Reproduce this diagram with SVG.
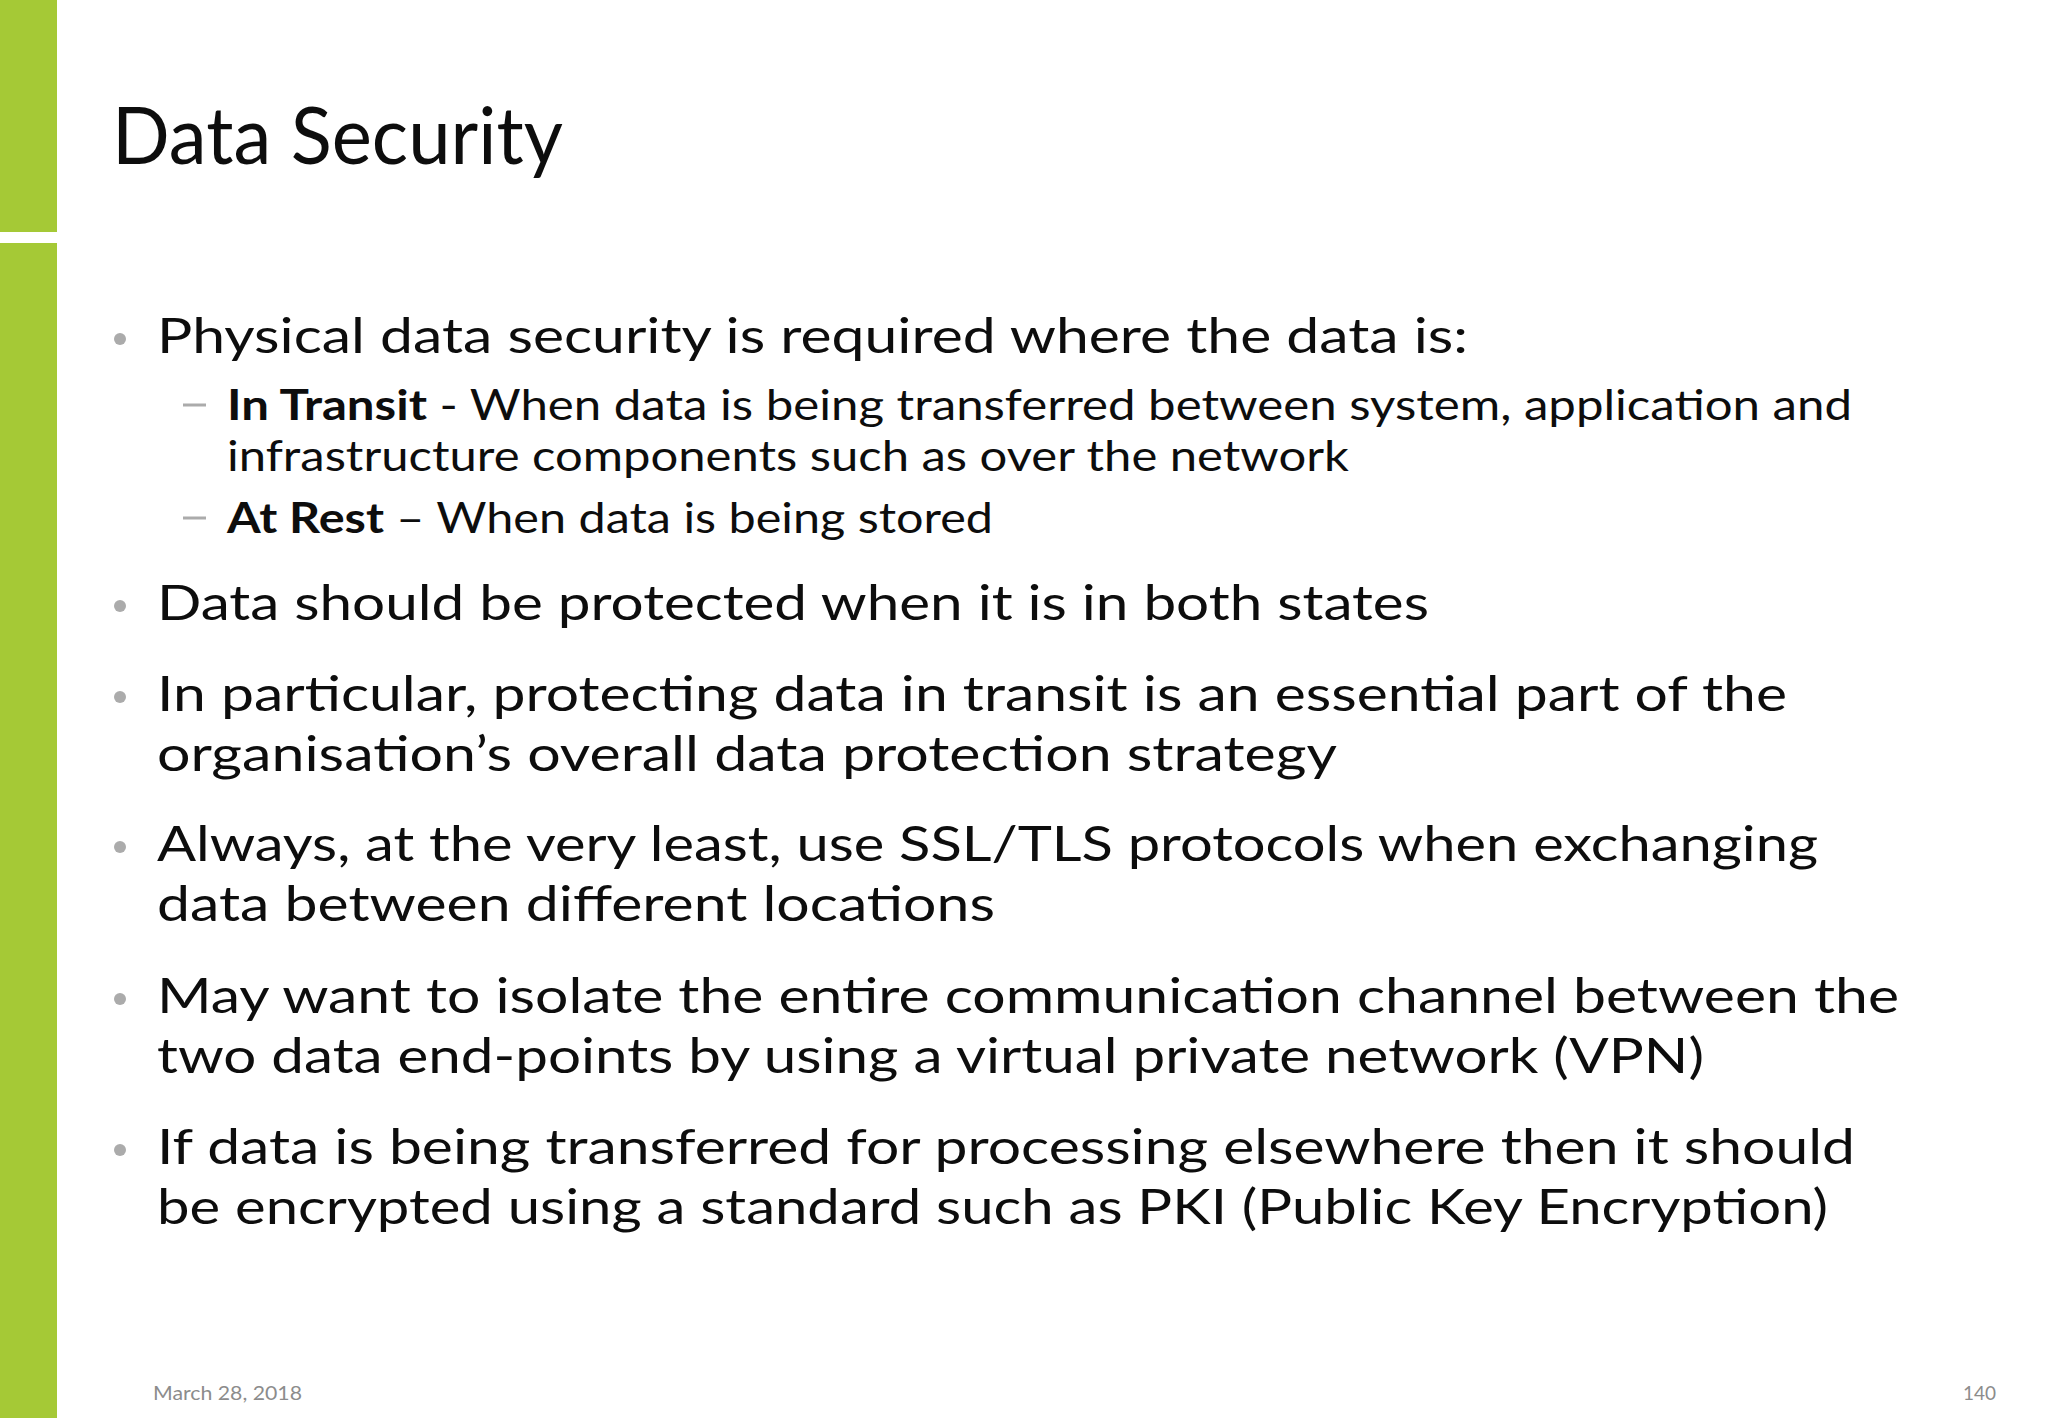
<svg xmlns="http://www.w3.org/2000/svg" width="2048" height="1418" viewBox="0 0 2048 1418">
<style>
text{font-family:Lato,"Open Sans",sans-serif;fill:#0d0d0d}
.m{font-size:49px}
.s{font-size:42px}
.b{font-weight:bold}
.f{font-size:19px;fill:#8c8c8c}
.dot{fill:#ababab}
.dash{stroke:#ababab;stroke-width:3}
</style>
<rect width="2048" height="1418" fill="#fff"/>
<rect x="0" y="0" width="57" height="232" fill="#a5c936"/>
<rect x="0" y="243" width="57" height="1175" fill="#a5c936"/>
<text x="112" y="164" font-size="80" textLength="451" lengthAdjust="spacingAndGlyphs">Data Security</text>
<g id="b1">
<circle class="dot" cx="120" cy="339" r="6"/>
<text class="m" x="157" y="353" textLength="1311" lengthAdjust="spacingAndGlyphs">Physical data security is required where the data is:</text>
</g>
<g id="s1">
<line class="dash" x1="183" y1="405" x2="206" y2="405"/>
<text class="s" x="227" y="420" textLength="1625" lengthAdjust="spacingAndGlyphs"><tspan class="b">In Transit</tspan> - When data is being transferred between system, application and</text>
<text class="s" x="227" y="471" textLength="1122" lengthAdjust="spacingAndGlyphs">infrastructure components such as over the network</text>
</g>
<g id="s2">
<line class="dash" x1="183" y1="518" x2="206" y2="518"/>
<text class="s" x="227" y="533" textLength="766" lengthAdjust="spacingAndGlyphs"><tspan class="b">At Rest</tspan> – When data is being stored</text>
</g>
<g id="b2">
<circle class="dot" cx="120" cy="606" r="6"/>
<text class="m" x="157" y="620" textLength="1272" lengthAdjust="spacingAndGlyphs">Data should be protected when it is in both states</text>
</g>
<g id="b3">
<circle class="dot" cx="120" cy="697" r="6"/>
<text class="m" x="157" y="711" textLength="1630" lengthAdjust="spacingAndGlyphs">In particular, protecting data in transit is an essential part of the</text>
<text class="m" x="157" y="771" textLength="1180" lengthAdjust="spacingAndGlyphs">organisation’s overall data protection strategy</text>
</g>
<g id="b4">
<circle class="dot" cx="120" cy="847" r="6"/>
<text class="m" x="157" y="861" textLength="1661" lengthAdjust="spacingAndGlyphs">Always, at the very least, use SSL/TLS protocols when exchanging</text>
<text class="m" x="157" y="921" textLength="838" lengthAdjust="spacingAndGlyphs">data between different locations</text>
</g>
<g id="b5">
<circle class="dot" cx="120" cy="999" r="6"/>
<text class="m" x="157" y="1013" textLength="1742" lengthAdjust="spacingAndGlyphs">May want to isolate the entire communication channel between the</text>
<text class="m" x="157" y="1073" textLength="1547" lengthAdjust="spacingAndGlyphs">two data end-points by using a virtual private network (VPN)</text>
</g>
<g id="b6">
<circle class="dot" cx="120" cy="1150" r="6"/>
<text class="m" x="157" y="1164" textLength="1698" lengthAdjust="spacingAndGlyphs">If data is being transferred for processing elsewhere then it should</text>
<text class="m" x="157" y="1224" textLength="1671" lengthAdjust="spacingAndGlyphs">be encrypted using a standard such as PKI (Public Key Encryption)</text>
</g>
<text class="f" x="153" y="1400" textLength="149" lengthAdjust="spacingAndGlyphs">March 28, 2018</text>
<text class="f" x="1996" y="1400" text-anchor="end">140</text>
</svg>
